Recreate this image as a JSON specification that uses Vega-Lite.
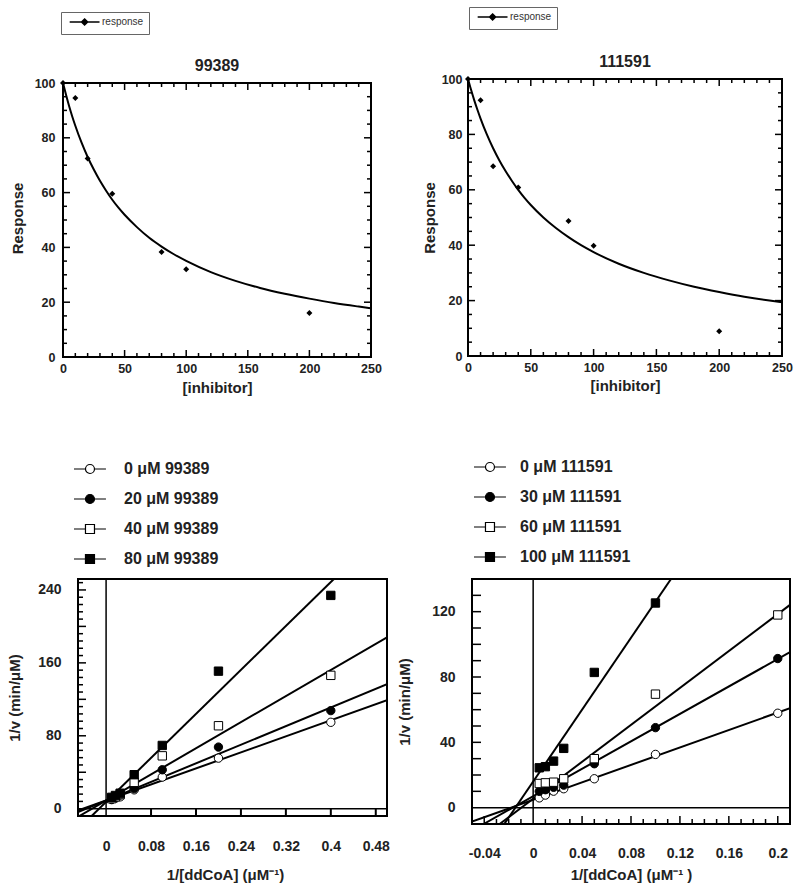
{
"$schema": "https://vega.github.io/schema/vega-lite/v6.json",
"padding": {"left": 7, "top": 5, "right": 0, "bottom": 0},
"spacing": 62,
"resolve": {"scale": {"fill": "independent", "shape": "independent"}, "legend": {"fill": "independent", "shape": "independent"}},
"config": {
  "view": {"stroke": "black", "strokeWidth": 2},
  "font": "Liberation Sans",
  "axis": {"domain": false, "grid": false, "ticks": false, "tickSize": 0, "labelColor": "#222", "titleColor": "#222", "labelFont": "Liberation Sans", "titleFont": "Liberation Sans", "labelFontWeight": "bold", "titleFontWeight": "bold", "labelOverlap": false, "labelFlush": false, "labelBound": false},
  "title": {"font": "Liberation Sans", "fontWeight": "bold", "fontSize": 16, "color": "#222"}
},
"datasets": {
  "tl_fit": [{"x":0,"y":100},{"x":2.5,"y":95.6},{"x":5,"y":91.5},{"x":7.5,"y":87.8},{"x":10,"y":84.4},{"x":15,"y":78.3},{"x":20,"y":73.0},{"x":25,"y":68.4},{"x":30,"y":64.3},{"x":35,"y":60.7},{"x":40,"y":57.4},{"x":45,"y":54.5},{"x":50,"y":51.9},{"x":60,"y":47.4},{"x":70,"y":43.5},{"x":80,"y":40.3},{"x":90,"y":37.5},{"x":100,"y":35.1},{"x":120,"y":31.0},{"x":140,"y":27.8},{"x":160,"y":25.2},{"x":180,"y":23.1},{"x":200,"y":21.3},{"x":220,"y":19.7},{"x":240,"y":18.4},{"x":250,"y":17.8}],
  "tl_pts": [{"s":"response","x":0,"y":100},{"s":"response","x":10,"y":94.5},{"s":"response","x":20,"y":72.4},{"s":"response","x":40,"y":59.6},{"s":"response","x":80,"y":38.3},{"s":"response","x":100,"y":32},{"s":"response","x":200,"y":16.1}],
  "tr_fit": [{"x":0,"y":100},{"x":2.5,"y":96.0},{"x":5,"y":92.3},{"x":7.5,"y":88.9},{"x":10,"y":85.7},{"x":15,"y":80.0},{"x":20,"y":75.0},{"x":25,"y":70.6},{"x":30,"y":66.7},{"x":35,"y":63.2},{"x":40,"y":60.0},{"x":45,"y":57.1},{"x":50,"y":54.5},{"x":60,"y":50.0},{"x":70,"y":46.2},{"x":80,"y":42.9},{"x":90,"y":40.0},{"x":100,"y":37.5},{"x":120,"y":33.3},{"x":140,"y":30.0},{"x":160,"y":27.3},{"x":180,"y":25.0},{"x":200,"y":23.1},{"x":220,"y":21.4},{"x":240,"y":20.0},{"x":250,"y":19.4}],
  "tr_pts": [{"s":"response","x":0,"y":100},{"s":"response","x":10,"y":92.3},{"s":"response","x":20,"y":68.5},{"s":"response","x":40,"y":60.8},{"s":"response","x":80,"y":48.7},{"s":"response","x":100,"y":39.8},{"s":"response","x":200,"y":8.9}],
  "tk_x_maj": [{"v":50},{"v":100},{"v":150},{"v":200}],
  "tk_x_min": [{"v":10},{"v":20},{"v":30},{"v":40},{"v":60},{"v":70},{"v":80},{"v":90},{"v":110},{"v":120},{"v":130},{"v":140},{"v":160},{"v":170},{"v":180},{"v":190},{"v":210},{"v":220},{"v":230},{"v":240}],
  "tk_y_maj": [{"v":20},{"v":40},{"v":60},{"v":80}],
  "tk_y_min": [{"v":5},{"v":10},{"v":15},{"v":25},{"v":30},{"v":35},{"v":45},{"v":50},{"v":55},{"v":65},{"v":70},{"v":75},{"v":85},{"v":90},{"v":95}],
  "bl_x_maj": [{"v":0.08},{"v":0.16},{"v":0.24},{"v":0.32},{"v":0.4},{"v":0.48}],
  "bl_y_maj": [{"v":40},{"v":80},{"v":120},{"v":160},{"v":200},{"v":240}],
  "bl_y_min": [{"v":8},{"v":16},{"v":24},{"v":32},{"v":48},{"v":56},{"v":64},{"v":72},{"v":88},{"v":96},{"v":104},{"v":112},{"v":128},{"v":136},{"v":144},{"v":152},{"v":168},{"v":176},{"v":184},{"v":192},{"v":208},{"v":216},{"v":224},{"v":232},{"v":248}],
  "br_x_maj": [{"v":-0.04},{"v":0.04},{"v":0.08},{"v":0.12},{"v":0.16},{"v":0.2}],
  "br_x_min": [{"v":-0.03},{"v":-0.02},{"v":-0.01},{"v":0.01},{"v":0.02},{"v":0.03},{"v":0.05},{"v":0.06},{"v":0.07},{"v":0.09},{"v":0.1},{"v":0.11},{"v":0.13},{"v":0.14},{"v":0.15},{"v":0.17},{"v":0.18},{"v":0.19}],
  "br_y": [{"v":10},{"v":20},{"v":30},{"v":40},{"v":50},{"v":60},{"v":70},{"v":80},{"v":90},{"v":100},{"v":110},{"v":120},{"v":130}],
  "bl_lines": [
    {"s":"0 μM 99389","x":-0.05,"y":-2},{"s":"0 μM 99389","x":0.5,"y":119},
    {"s":"20 μM 99389","x":-0.05,"y":-3.8},{"s":"20 μM 99389","x":0.5,"y":136.5},
    {"s":"40 μM 99389","x":-0.05,"y":-8.9},{"s":"40 μM 99389","x":0.5,"y":188},
    {"s":"80 μM 99389","x":-0.0257,"y":-8},{"s":"80 μM 99389","x":0.4055,"y":252}],
  "bl_pts": [
    {"s":"0 μM 99389","x":0.01,"y":10},{"s":"0 μM 99389","x":0.0167,"y":11.5},{"s":"0 μM 99389","x":0.025,"y":13},{"s":"0 μM 99389","x":0.05,"y":20.7},{"s":"0 μM 99389","x":0.1,"y":34.7},{"s":"0 μM 99389","x":0.2,"y":55.5},{"s":"0 μM 99389","x":0.4,"y":94.8},
    {"s":"20 μM 99389","x":0.01,"y":10.5},{"s":"20 μM 99389","x":0.0167,"y":12.5},{"s":"20 μM 99389","x":0.025,"y":15},{"s":"20 μM 99389","x":0.05,"y":22},{"s":"20 μM 99389","x":0.1,"y":42.7},{"s":"20 μM 99389","x":0.2,"y":67.6},{"s":"20 μM 99389","x":0.4,"y":107.6},
    {"s":"40 μM 99389","x":0.01,"y":11},{"s":"40 μM 99389","x":0.0167,"y":13},{"s":"40 μM 99389","x":0.025,"y":15.5},{"s":"40 μM 99389","x":0.05,"y":28.9},{"s":"40 μM 99389","x":0.1,"y":58},{"s":"40 μM 99389","x":0.2,"y":91},{"s":"40 μM 99389","x":0.4,"y":146.3},
    {"s":"80 μM 99389","x":0.01,"y":12.5},{"s":"80 μM 99389","x":0.0167,"y":14.5},{"s":"80 μM 99389","x":0.025,"y":17},{"s":"80 μM 99389","x":0.05,"y":37.3},{"s":"80 μM 99389","x":0.1,"y":69.4},{"s":"80 μM 99389","x":0.2,"y":150.9},{"s":"80 μM 99389","x":0.4,"y":234}],
  "br_lines": [
    {"s":"0 μM 111591","x":-0.05,"y":-8.55},{"s":"0 μM 111591","x":0.21,"y":60.9},
    {"s":"30 μM 111591","x":-0.0405,"y":-10},{"s":"30 μM 111591","x":0.21,"y":95.2},
    {"s":"60 μM 111591","x":-0.0274,"y":-10},{"s":"60 μM 111591","x":0.21,"y":124.15},
    {"s":"100 μM 111591","x":-0.0236,"y":-10},{"s":"100 μM 111591","x":0.1127,"y":140}],
  "br_pts": [
    {"s":"0 μM 111591","x":0.005,"y":6},{"s":"0 μM 111591","x":0.01,"y":7.7},{"s":"0 μM 111591","x":0.0167,"y":10.1},{"s":"0 μM 111591","x":0.025,"y":11.6},{"s":"0 μM 111591","x":0.05,"y":17.7},{"s":"0 μM 111591","x":0.1,"y":32.6},{"s":"0 μM 111591","x":0.2,"y":57.8},
    {"s":"30 μM 111591","x":0.005,"y":10},{"s":"30 μM 111591","x":0.01,"y":11},{"s":"30 μM 111591","x":0.0167,"y":12.5},{"s":"30 μM 111591","x":0.025,"y":13.8},{"s":"30 μM 111591","x":0.05,"y":26.9},{"s":"30 μM 111591","x":0.1,"y":49},{"s":"30 μM 111591","x":0.2,"y":91.3},
    {"s":"60 μM 111591","x":0.005,"y":14.8},{"s":"60 μM 111591","x":0.01,"y":15.2},{"s":"60 μM 111591","x":0.0167,"y":15.6},{"s":"60 μM 111591","x":0.025,"y":17.7},{"s":"60 μM 111591","x":0.05,"y":30},{"s":"60 μM 111591","x":0.1,"y":69.5},{"s":"60 μM 111591","x":0.2,"y":118},
    {"s":"100 μM 111591","x":0.005,"y":24.4},{"s":"100 μM 111591","x":0.01,"y":25.1},{"s":"100 μM 111591","x":0.0167,"y":28.5},{"s":"100 μM 111591","x":0.025,"y":36.3},{"s":"100 μM 111591","x":0.05,"y":82.8},{"s":"100 μM 111591","x":0.1,"y":125.3}],
  "zero": [{"v":0}],
  "none": []
},
"vconcat": [
 {"hconcat": [
  {"width": 308, "height": 278,
   "view": {"stroke": null},
   "title": {"text": "99389", "offset": -62},
   "layer": [
    {"data": {"name": "tl_fit"}, "mark": {"type": "line", "color": "black", "strokeWidth": 2, "interpolate": "monotone", "clip": true},
     "encoding": {
      "x": {"field": "x", "type": "quantitative", "scale": {"domain": [0, 250], "nice": false, "zero": false},
            "axis": {"orient": "bottom", "values": [0,50,100,150,200,250], "labelOverlap": false, "labelFontSize": 12.5, "labelPadding": 5, "title": "[inhibitor]", "titleFontSize": 15, "titlePadding": 6}},
      "y": {"field": "y", "type": "quantitative", "scale": {"domain": [0, 101.46], "nice": false},
            "axis": {"orient": "left", "values": [0,20,40,60,80,100], "labelOverlap": false, "labelFontSize": 12.5, "labelPadding": 8, "title": "Response", "titleFontSize": 15, "titlePadding": 9}}
     }},
    {"data": {"name": "zero"}, "mark": {"type": "rect", "filled": false, "color": "black", "stroke": "black", "strokeWidth": 2}, "encoding": {"x": {"datum": 0}, "x2": {"datum": 250}, "y": {"datum": 0}, "y2": {"datum": 100}}},
    {"data": {"name": "tk_x_maj"}, "mark": {"type": "rule", "color": "black", "strokeWidth": 1.5, "y2Offset": -7}, "encoding": {"x": {"field": "v", "type": "quantitative"}, "y": {"datum": 0}, "y2": {"datum": 0}}},
    {"data": {"name": "tk_x_maj"}, "mark": {"type": "rule", "color": "black", "strokeWidth": 1.5, "y2Offset": 7}, "encoding": {"x": {"field": "v", "type": "quantitative"}, "y": {"datum": 100}, "y2": {"datum": 100}}},
    {"data": {"name": "tk_x_min"}, "mark": {"type": "rule", "color": "black", "strokeWidth": 1.5, "y2Offset": -4}, "encoding": {"x": {"field": "v", "type": "quantitative"}, "y": {"datum": 0}, "y2": {"datum": 0}}},
    {"data": {"name": "tk_x_min"}, "mark": {"type": "rule", "color": "black", "strokeWidth": 1.5, "y2Offset": 4}, "encoding": {"x": {"field": "v", "type": "quantitative"}, "y": {"datum": 100}, "y2": {"datum": 100}}},
    {"data": {"name": "tk_y_maj"}, "mark": {"type": "rule", "color": "black", "strokeWidth": 1.5, "x2Offset": 7}, "encoding": {"y": {"field": "v", "type": "quantitative"}, "x": {"datum": 0}, "x2": {"datum": 0}}},
    {"data": {"name": "tk_y_maj"}, "mark": {"type": "rule", "color": "black", "strokeWidth": 1.5, "x2Offset": -7}, "encoding": {"y": {"field": "v", "type": "quantitative"}, "x": {"datum": 250}, "x2": {"datum": 250}}},
    {"data": {"name": "tk_y_min"}, "mark": {"type": "rule", "color": "black", "strokeWidth": 1.5, "x2Offset": 4}, "encoding": {"y": {"field": "v", "type": "quantitative"}, "x": {"datum": 0}, "x2": {"datum": 0}}},
    {"data": {"name": "tk_y_min"}, "mark": {"type": "rule", "color": "black", "strokeWidth": 1.5, "x2Offset": -4}, "encoding": {"y": {"field": "v", "type": "quantitative"}, "x": {"datum": 250}, "x2": {"datum": 250}}},
    {"data": {"name": "tl_pts"}, "mark": {"type": "point", "shape": "diamond", "filled": true, "color": "black", "size": 36, "opacity": 1},
     "encoding": {
      "x": {"field": "x", "type": "quantitative"},
      "y": {"field": "y", "type": "quantitative"},
      "fill": {"field": "s", "type": "nominal", "scale": {"range": ["black"]},
               "legend": {"orient": "none", "legendX": -2, "legendY": -67, "title": null, "strokeColor": "#666", "fillColor": "white", "padding": 5, "symbolType": "M-0.4,0H8.6M4.1,-0.9L5,0L4.1,0.9L3.2,0Z", "symbolSize": 44, "symbolStrokeColor": "black", "symbolStrokeWidth": 1.6, "symbolOpacity": 1, "labelFontSize": 10, "labelFont": "Liberation Sans", "labelColor": "#333", "labelOffset": 26,
                          "encode": {"symbols": {"update": {"shape": {"value": "M-0.4,0H8.6M4.1,-0.9L5,0L4.1,0.9L3.2,0Z"}, "stroke": {"value": "black"}, "strokeOpacity": {"value": 1}, "strokeWidth": {"value": 1.6}, "fill": {"value": "black"}}}}}}
     }}
   ]
  },
  {"width": 314, "height": 277,
   "title": {"text": "111591", "offset": -63},
   "layer": [
    {"data": {"name": "tr_fit"}, "mark": {"type": "line", "color": "black", "strokeWidth": 2, "interpolate": "monotone", "clip": true},
     "encoding": {
      "x": {"field": "x", "type": "quantitative", "scale": {"domain": [0, 250], "nice": false, "zero": false},
            "axis": {"orient": "bottom", "values": [0,50,100,150,200,250], "labelOverlap": false, "labelFontSize": 12.5, "labelPadding": 5, "title": "[inhibitor]", "titleFontSize": 15, "titlePadding": 5}},
      "y": {"field": "y", "type": "quantitative", "scale": {"domain": [0, 100], "nice": false},
            "axis": {"orient": "left", "values": [0,20,40,60,80,100], "labelOverlap": false, "labelFontSize": 12.5, "labelPadding": 6, "title": "Response", "titleFontSize": 15, "titlePadding": 4}}
     }},
    {"data": {"name": "tk_x_maj"}, "mark": {"type": "rule", "color": "black", "strokeWidth": 1.5, "y2Offset": -7}, "encoding": {"x": {"field": "v", "type": "quantitative"}, "y": {"datum": 0}, "y2": {"datum": 0}}},
    {"data": {"name": "tk_x_maj"}, "mark": {"type": "rule", "color": "black", "strokeWidth": 1.5, "y2Offset": 7}, "encoding": {"x": {"field": "v", "type": "quantitative"}, "y": {"datum": 100}, "y2": {"datum": 100}}},
    {"data": {"name": "tk_x_min"}, "mark": {"type": "rule", "color": "black", "strokeWidth": 1.5, "y2Offset": -4}, "encoding": {"x": {"field": "v", "type": "quantitative"}, "y": {"datum": 0}, "y2": {"datum": 0}}},
    {"data": {"name": "tk_x_min"}, "mark": {"type": "rule", "color": "black", "strokeWidth": 1.5, "y2Offset": 4}, "encoding": {"x": {"field": "v", "type": "quantitative"}, "y": {"datum": 100}, "y2": {"datum": 100}}},
    {"data": {"name": "tk_y_maj"}, "mark": {"type": "rule", "color": "black", "strokeWidth": 1.5, "x2Offset": 7}, "encoding": {"y": {"field": "v", "type": "quantitative"}, "x": {"datum": 0}, "x2": {"datum": 0}}},
    {"data": {"name": "tk_y_maj"}, "mark": {"type": "rule", "color": "black", "strokeWidth": 1.5, "x2Offset": -7}, "encoding": {"y": {"field": "v", "type": "quantitative"}, "x": {"datum": 250}, "x2": {"datum": 250}}},
    {"data": {"name": "tk_y_min"}, "mark": {"type": "rule", "color": "black", "strokeWidth": 1.5, "x2Offset": 4}, "encoding": {"y": {"field": "v", "type": "quantitative"}, "x": {"datum": 0}, "x2": {"datum": 0}}},
    {"data": {"name": "tk_y_min"}, "mark": {"type": "rule", "color": "black", "strokeWidth": 1.5, "x2Offset": -4}, "encoding": {"y": {"field": "v", "type": "quantitative"}, "x": {"datum": 250}, "x2": {"datum": 250}}},
    {"data": {"name": "tr_pts"}, "mark": {"type": "point", "shape": "diamond", "filled": true, "color": "black", "size": 36, "opacity": 1},
     "encoding": {
      "x": {"field": "x", "type": "quantitative"},
      "y": {"field": "y", "type": "quantitative"},
      "fill": {"field": "s", "type": "nominal", "scale": {"range": ["black"]},
               "legend": {"orient": "none", "legendX": 1, "legendY": -72, "title": null, "strokeColor": "#666", "fillColor": "white", "padding": 5, "symbolType": "M-0.4,0H8.6M4.1,-0.9L5,0L4.1,0.9L3.2,0Z", "symbolSize": 44, "symbolStrokeColor": "black", "symbolStrokeWidth": 1.6, "symbolOpacity": 1, "labelFontSize": 10, "labelFont": "Liberation Sans", "labelColor": "#333", "labelOffset": 26,
                          "encode": {"symbols": {"update": {"shape": {"value": "M-0.4,0H8.6M4.1,-0.9L5,0L4.1,0.9L3.2,0Z"}, "stroke": {"value": "black"}, "strokeOpacity": {"value": 1}, "strokeWidth": {"value": 1.6}, "fill": {"value": "black"}}}}}}
     }}
   ]
  }
 ], "spacing": 39, "resolve": {"scale": {"fill": "independent", "shape": "independent"}, "legend": {"fill": "independent", "shape": "independent"}}},
 {"hconcat": [
  {"width": 324, "height": 237,
   "view": {"stroke": null},
   "layer": [
    {"data": {"name": "bl_lines"}, "mark": {"type": "line", "color": "black", "strokeWidth": 2, "clip": true},
     "encoding": {
      "x": {"field": "x", "type": "quantitative", "scale": {"domain": [-0.0767, 0.5], "nice": false, "zero": false},
            "axis": {"orient": "bottom", "values": [0,0.08,0.16,0.24,0.32,0.4,0.48], "labelExpr": "datum.value + ''", "labelOverlap": false, "labelFontSize": 14, "labelPadding": 23, "title": "1/[ddCoA] (μM⁻¹)", "titleFontSize": 15, "titlePadding": 14}},
      "y": {"field": "y", "type": "quantitative", "scale": {"domain": [-8, 252], "nice": false, "zero": false},
            "axis": {"orient": "left", "offset": -15, "values": [0,40,80,120,160,200,240], "labelOverlap": false, "labelFontSize": 14, "labelPadding": 17, "title": "1/v (min/μM)", "titleFontSize": 15, "titlePadding": 15}},
      "detail": {"field": "s"}
     }},
    {"data": {"name": "zero"}, "mark": {"type": "rect", "filled": false, "color": "black", "stroke": "black", "strokeWidth": 2}, "encoding": {"x": {"datum": -0.05}, "x2": {"datum": 0.5}, "y": {"datum": -8}, "y2": {"datum": 252}}},
    {"data": {"name": "zero"}, "mark": {"type": "rule", "color": "black", "strokeWidth": 1.5}, "encoding": {"x": {"field": "v", "type": "quantitative"}}},
    {"data": {"name": "zero"}, "mark": {"type": "rule", "color": "black", "strokeWidth": 1.5}, "encoding": {"y": {"field": "v", "type": "quantitative"}, "x": {"datum": -0.05}, "x2": {"datum": 0.5}}},
    {"data": {"name": "bl_x_maj"}, "mark": {"type": "rule", "color": "black", "strokeWidth": 2}, "encoding": {"x": {"field": "v", "type": "quantitative"}, "y": {"datum": -8}, "y2": {"datum": 0}}},
    {"data": {"name": "bl_y_maj"}, "mark": {"type": "rule", "color": "black", "strokeWidth": 1.5, "x2Offset": 8}, "encoding": {"y": {"field": "v", "type": "quantitative"}, "x": {"datum": -0.05}, "x2": {"datum": -0.05}}},
    {"data": {"name": "bl_y_min"}, "mark": {"type": "rule", "color": "black", "strokeWidth": 1.5, "x2Offset": 5}, "encoding": {"y": {"field": "v", "type": "quantitative"}, "x": {"datum": -0.05}, "x2": {"datum": -0.05}}},
    {"data": {"name": "bl_pts"}, "transform": [{"filter": {"field": "s", "equal": "0 μM 99389"}}], "mark": {"type": "point", "shape": "circle", "filled": true, "fill": "white", "stroke": "black", "strokeWidth": 1, "size": 70, "opacity": 1}, "encoding": {"x": {"field": "x", "type": "quantitative"}, "y": {"field": "y", "type": "quantitative"}}},
    {"data": {"name": "bl_pts"}, "transform": [{"filter": {"field": "s", "equal": "20 μM 99389"}}], "mark": {"type": "point", "shape": "circle", "filled": true, "fill": "black", "stroke": "black", "strokeWidth": 1, "size": 70, "opacity": 1}, "encoding": {"x": {"field": "x", "type": "quantitative"}, "y": {"field": "y", "type": "quantitative"}}},
    {"data": {"name": "bl_pts"}, "transform": [{"filter": {"field": "s", "equal": "40 μM 99389"}}], "mark": {"type": "point", "shape": "square", "filled": true, "fill": "white", "stroke": "black", "strokeWidth": 1, "size": 70, "opacity": 1}, "encoding": {"x": {"field": "x", "type": "quantitative"}, "y": {"field": "y", "type": "quantitative"}}},
    {"data": {"name": "bl_pts"}, "transform": [{"filter": {"field": "s", "equal": "80 μM 99389"}}], "mark": {"type": "point", "shape": "square", "filled": true, "fill": "black", "stroke": "black", "strokeWidth": 1, "size": 70, "opacity": 1}, "encoding": {"x": {"field": "x", "type": "quantitative"}, "y": {"field": "y", "type": "quantitative"}}},
    {"data": {"name": "none"}, "mark": {"type": "point", "filled": true, "stroke": "black", "strokeWidth": 1.2, "opacity": 1},
     "encoding": {
      "shape": {"field": "s", "type": "nominal", "scale": {"domain": ["0 μM 99389","20 μM 99389","40 μM 99389","80 μM 99389"], "range": ["M-1,0H1.55M3.55,0H6.1M1.55,0A1,1 0 1,1 3.55,0A1,1 0 1,1 1.55,0Z","M-1,0H1.55M3.55,0H6.1M1.55,0A1,1 0 1,1 3.55,0A1,1 0 1,1 1.55,0Z","M-1,0H1.55M3.55,0H6.1M1.55,-1H3.55V1H1.55Z","M-1,0H1.55M3.55,0H6.1M1.55,-1H3.55V1H1.55Z"]},
               "legend": {"orient": "none", "legendX": 7.5, "legendY": -118, "title": null, "padding": 0, "symbolSize": 81, "symbolStrokeColor": "black", "symbolStrokeWidth": 1.2, "symbolOpacity": 1, "rowPadding": 14, "labelFontSize": 16, "labelFont": "Liberation Sans", "labelFontWeight": "bold", "labelColor": "#222", "labelOffset": 37.5,
                          "encode": {"symbols": {"update": {"stroke": {"value": "black"}, "strokeOpacity": {"value": 1}, "strokeWidth": {"value": 1.2}}}}}},
      "fill": {"field": "s", "type": "nominal", "scale": {"domain": ["0 μM 99389","20 μM 99389","40 μM 99389","80 μM 99389"], "range": ["white","black","white","black"]},
               "legend": {"orient": "none", "legendX": 7.5, "legendY": -118, "title": null, "padding": 0, "symbolSize": 81, "symbolStrokeColor": "black", "symbolStrokeWidth": 1.2, "symbolOpacity": 1, "rowPadding": 14, "labelFontSize": 16, "labelFont": "Liberation Sans", "labelFontWeight": "bold", "labelColor": "#222", "labelOffset": 37.5,
                          "encode": {"symbols": {"update": {"stroke": {"value": "black"}, "strokeOpacity": {"value": 1}, "strokeWidth": {"value": 1.2}}}}}}
     }}
   ]
  },
  {"width": 318, "height": 245,
   "layer": [
    {"data": {"name": "br_lines"}, "mark": {"type": "line", "color": "black", "strokeWidth": 2, "clip": true},
     "encoding": {
      "x": {"field": "x", "type": "quantitative", "scale": {"domain": [-0.05, 0.21], "nice": false, "zero": false},
            "axis": {"orient": "bottom", "values": [-0.04,0,0.04,0.08,0.12,0.16,0.2], "labelExpr": "datum.value + ''", "labelOverlap": false, "labelFontSize": 14, "labelPadding": 22, "title": "1/[ddCoA] (μM⁻¹ )", "titleFontSize": 15, "titlePadding": 7}},
      "y": {"field": "y", "type": "quantitative", "scale": {"domain": [-10, 140], "nice": false, "zero": false},
            "axis": {"orient": "left", "values": [0,20,40,60,80,100,120,140], "labelOverlap": false, "labelFontSize": 14, "labelPadding": 17, "title": "1/v (min/μM)", "titleFontSize": 15, "titlePadding": 19}},
      "detail": {"field": "s"}
     }},
    {"data": {"name": "zero"}, "mark": {"type": "rule", "color": "black", "strokeWidth": 1.5}, "encoding": {"x": {"field": "v", "type": "quantitative"}}},
    {"data": {"name": "zero"}, "mark": {"type": "rule", "color": "black", "strokeWidth": 1.5}, "encoding": {"y": {"field": "v", "type": "quantitative"}}},
    {"data": {"name": "br_x_maj"}, "mark": {"type": "rule", "color": "black", "strokeWidth": 1.5, "y2Offset": -8}, "encoding": {"x": {"field": "v", "type": "quantitative"}, "y": {"datum": -10}, "y2": {"datum": -10}}},
    {"data": {"name": "br_x_min"}, "mark": {"type": "rule", "color": "black", "strokeWidth": 1.5, "y2Offset": -5}, "encoding": {"x": {"field": "v", "type": "quantitative"}, "y": {"datum": -10}, "y2": {"datum": -10}}},
    {"data": {"name": "br_y"}, "mark": {"type": "rule", "color": "black", "strokeWidth": 1.5, "x2Offset": 9}, "encoding": {"y": {"field": "v", "type": "quantitative"}, "x": {"datum": -0.05}, "x2": {"datum": -0.05}}},
    {"data": {"name": "br_pts"}, "transform": [{"filter": {"field": "s", "equal": "0 μM 111591"}}], "mark": {"type": "point", "shape": "circle", "filled": true, "fill": "white", "stroke": "black", "strokeWidth": 1, "size": 70, "opacity": 1}, "encoding": {"x": {"field": "x", "type": "quantitative"}, "y": {"field": "y", "type": "quantitative"}}},
    {"data": {"name": "br_pts"}, "transform": [{"filter": {"field": "s", "equal": "30 μM 111591"}}], "mark": {"type": "point", "shape": "circle", "filled": true, "fill": "black", "stroke": "black", "strokeWidth": 1, "size": 70, "opacity": 1}, "encoding": {"x": {"field": "x", "type": "quantitative"}, "y": {"field": "y", "type": "quantitative"}}},
    {"data": {"name": "br_pts"}, "transform": [{"filter": {"field": "s", "equal": "60 μM 111591"}}], "mark": {"type": "point", "shape": "square", "filled": true, "fill": "white", "stroke": "black", "strokeWidth": 1, "size": 70, "opacity": 1}, "encoding": {"x": {"field": "x", "type": "quantitative"}, "y": {"field": "y", "type": "quantitative"}}},
    {"data": {"name": "br_pts"}, "transform": [{"filter": {"field": "s", "equal": "100 μM 111591"}}], "mark": {"type": "point", "shape": "square", "filled": true, "fill": "black", "stroke": "black", "strokeWidth": 1, "size": 70, "opacity": 1}, "encoding": {"x": {"field": "x", "type": "quantitative"}, "y": {"field": "y", "type": "quantitative"}}},
    {"data": {"name": "none"}, "mark": {"type": "point", "filled": true, "stroke": "black", "strokeWidth": 1.2, "opacity": 1},
     "encoding": {
      "shape": {"field": "s", "type": "nominal", "scale": {"domain": ["0 μM 111591","30 μM 111591","60 μM 111591","100 μM 111591"], "range": ["M-1,0H1.55M3.55,0H6.1M1.55,0A1,1 0 1,1 3.55,0A1,1 0 1,1 1.55,0Z","M-1,0H1.55M3.55,0H6.1M1.55,0A1,1 0 1,1 3.55,0A1,1 0 1,1 1.55,0Z","M-1,0H1.55M3.55,0H6.1M1.55,-1H3.55V1H1.55Z","M-1,0H1.55M3.55,0H6.1M1.55,-1H3.55V1H1.55Z"]},
               "legend": {"orient": "none", "legendX": -1.5, "legendY": -120, "title": null, "padding": 0, "symbolSize": 81, "symbolStrokeColor": "black", "symbolStrokeWidth": 1.2, "symbolOpacity": 1, "rowPadding": 14, "labelFontSize": 16, "labelFont": "Liberation Sans", "labelFontWeight": "bold", "labelColor": "#222", "labelOffset": 33.5,
                          "encode": {"symbols": {"update": {"stroke": {"value": "black"}, "strokeOpacity": {"value": 1}, "strokeWidth": {"value": 1.2}}}}}},
      "fill": {"field": "s", "type": "nominal", "scale": {"domain": ["0 μM 111591","30 μM 111591","60 μM 111591","100 μM 111591"], "range": ["white","black","white","black"]},
               "legend": {"orient": "none", "legendX": -1.5, "legendY": -120, "title": null, "padding": 0, "symbolSize": 81, "symbolStrokeColor": "black", "symbolStrokeWidth": 1.2, "symbolOpacity": 1, "rowPadding": 14, "labelFontSize": 16, "labelFont": "Liberation Sans", "labelFontWeight": "bold", "labelColor": "#222", "labelOffset": 33.5,
                          "encode": {"symbols": {"update": {"stroke": {"value": "black"}, "strokeOpacity": {"value": 1}, "strokeWidth": {"value": 1.2}}}}}}
     }}
   ]
  }
 ], "spacing": 6, "resolve": {"scale": {"fill": "independent", "shape": "independent"}, "legend": {"fill": "independent", "shape": "independent"}}}
]
}
